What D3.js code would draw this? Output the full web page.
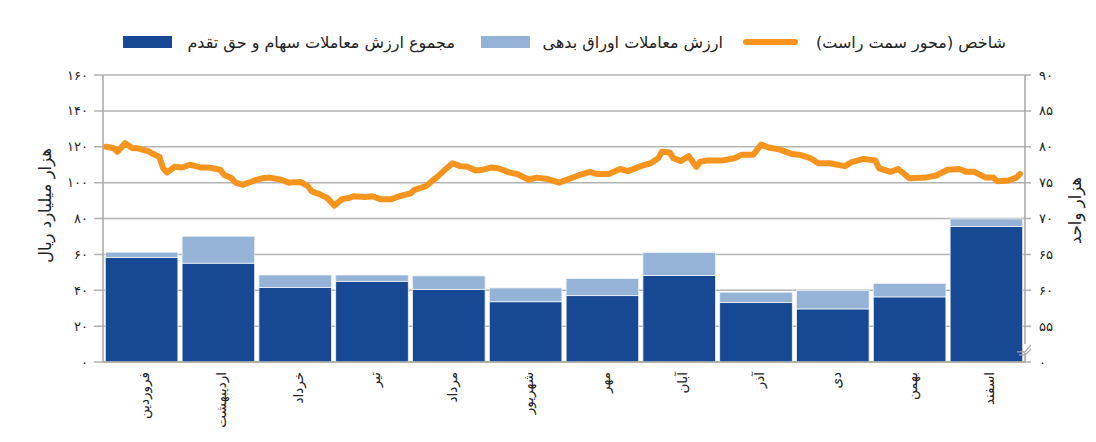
<!DOCTYPE html>
<html>
<head>
<meta charset="utf-8">
<script src="https://cdn.jsdelivr.net/npm/d3@7"></script>
<style>
  body { margin: 0; background: #fff; }
  text { font-family: "DejaVu Sans", sans-serif; fill: #222; }
</style>
</head>
<body>
<script>
// monthly trading values (thousand billion rials) and the index (thousand units)
var months = ["فروردین", "اردیبهشت", "خرداد", "تیر", "مرداد", "شهریور", "مهر", "آبان", "آذر", "دی", "بهمن", "اسفند"];
var stockValues = [58.2, 55.1, 41.5, 45.0, 40.5, 33.6, 37.0, 48.2, 33.1, 29.6, 36.3, 75.5];
var bondValues = [3.0, 15.0, 7.0, 3.5, 7.5, 7.7, 9.5, 12.8, 5.8, 10.2, 7.4, 4.3];

var leftTicks = [0, 20, 40, 60, 80, 100, 120, 140, 160];
var leftTickLabels = ["۰", "۲۰", "۴۰", "۶۰", "۸۰", "۱۰۰", "۱۲۰", "۱۴۰", "۱۶۰"];
var rightTicks = [50, 55, 60, 65, 70, 75, 80, 85, 90];
var rightTickLabels = ["۰", "۵۵", "۶۰", "۶۵", "۷۰", "۷۵", "۸۰", "۸۵", "۹۰"];

// index line: trading day (0..240) and value
var indexDays = [0, 2, 3, 5, 7, 8, 11, 12, 14, 15, 16, 18, 20, 22, 25, 27, 30, 31, 33, 34, 36, 39, 41, 43, 46, 48, 51, 53, 54, 56, 58, 60, 62, 64, 65, 68, 70, 72, 75, 77, 80,
    81, 84, 86, 87, 89, 91, 93, 95, 97, 99, 101, 103, 106, 108, 111, 113, 116, 119, 121, 124, 127, 129, 132, 135, 137, 141, 143, 145, 146, 148, 149, 151, 153, 155, 156, 158, 160,
    162, 165, 167, 170, 172, 174, 177, 180, 182, 185, 187, 190, 194, 196, 199, 202, 203, 206, 208, 211, 215, 218, 221, 224, 226, 228, 231, 233, 234, 237, 239, 240];
var indexValues = [80.0, 79.8, 79.3, 80.5, 79.8, 79.8, 79.4, 79.1, 78.6, 77.0, 76.4, 77.2, 77.1, 77.5, 77.1, 77.1, 76.8, 76.1, 75.6, 75.0, 74.7, 75.3, 75.6, 75.7, 75.4, 75.0, 75.1, 74.5, 73.8, 73.4, 72.9, 71.8, 72.7, 72.9, 73.1, 73.0, 73.1, 72.7, 72.7, 73.1, 73.5,
    74.0, 74.5, 75.4, 75.8, 76.8, 77.7, 77.3, 77.2, 76.7, 76.8, 77.1, 77.0, 76.4, 76.2, 75.4, 75.7, 75.5, 75.0, 75.4, 76.0, 76.5, 76.2, 76.2, 76.9, 76.6, 77.4, 77.7, 78.4, 79.3, 79.2, 78.4, 78.0, 78.7, 77.2, 77.9, 78.1, 78.1,
    78.1, 78.4, 78.9, 78.9, 80.3, 79.9, 79.6, 79.0, 78.9, 78.4, 77.7, 77.7, 77.3, 77.9, 78.3, 78.1, 77.0, 76.5, 76.9, 75.6, 75.7, 76.0, 76.8, 76.9, 76.5, 76.5, 75.7, 75.7, 75.2, 75.3, 75.7, 76.2];

var legendLabels = ["مجموع ارزش معاملات سهام و حق تقدم", "ارزش معاملات اوراق بدهی", "شاخص (محور سمت راست)"];
var colors = ["#174894", "#95b3d7", "#f7941d"];

var margin = {top: 75, right: 71, bottom: 80, left: 103};
var width = 1096 - margin.left - margin.right;
var height = 442 - margin.top - margin.bottom;

var svg = d3.select("body").append("svg")
    .attr("width", 1096)
    .attr("height", 442);

var g = svg.append("g")
    .attr("transform", "translate(" + margin.left + ", " + margin.top + ")");

var x = d3.scaleBand().domain(months).range([0, width]).paddingInner(0.055).paddingOuter(0.03);
var y = d3.scaleLinear().domain([0, 160]).range([height, 0]);
var y2 = d3.scaleLinear().domain([50, 90]).range([height, 0]);
var xDay = d3.scaleLinear().domain([0, 240]).range([3, width - 5]);

// gridlines
g.append("g").selectAll("line").data(leftTicks).enter().append("line")
    .attr("x1", -9).attr("x2", width + 6)
    .attr("y1", (d) => y(d)).attr("y2", (d) => y(d))
    .attr("stroke", "#b3b3b3").attr("stroke-width", 1.5);

// bars
var table = months.map((m, i) => ({month: m, stock: stockValues[i], bond: bondValues[i]}));
var stack = d3.stack().keys(["stock", "bond"])(table);

g.append("g").selectAll("g").data(stack).enter().append("g")
    .attr("fill", (d, i) => colors[i])
    .selectAll("rect").data((d) => d).enter().append("rect")
        .attr("x", (d) => x(d.data.month))
        .attr("y", (d) => y(d[1]))
        .attr("width", x.bandwidth())
        .attr("height", (d) => y(d[0]) - y(d[1]))
        .attr("stroke", "#eef2f8").attr("stroke-width", 0.8);

// axes lines
g.append("line").attr("x1", 0).attr("x2", 0).attr("y1", 0).attr("y2", height)
    .attr("stroke", "#a6a6a6").attr("stroke-width", 1.5);
g.append("line").attr("x1", width).attr("x2", width).attr("y1", 0).attr("y2", height)
    .attr("stroke", "#a6a6a6").attr("stroke-width", 1.5);
g.append("line").attr("x1", 0).attr("x2", width).attr("y1", height).attr("y2", height)
    .attr("stroke", "#a6a6a6").attr("stroke-width", 1.5);

// left tick labels
g.append("g").selectAll("text").data(leftTicks).enter().append("text")
    .attr("x", -15).attr("y", (d) => y(d)).attr("dy", "0.35em")
    .attr("text-anchor", "end").attr("font-size", "13px")
    .text((d, i) => leftTickLabels[i]);

// right tick labels
g.append("g").selectAll("text").data(rightTicks).enter().append("text")
    .attr("x", width + 14).attr("y", (d) => y2(d)).attr("dy", "0.35em")
    .attr("text-anchor", "start").attr("font-size", "13px")
    .text((d, i) => rightTickLabels[i]);

// axis break on the right axis
g.append("rect").attr("x", width - 2).attr("y", y2(52.5)).attr("width", 4).attr("height", y2(51.3) - y2(52.5))
    .attr("fill", "#fff");
g.append("path")
    .attr("d", "M" + (width - 8) + "," + y2(51.4) + "L" + width + "," + y2(51.4) + "L" + (width + 6) + "," + y2(52.4) +
        "M" + (width - 6) + "," + y2(51.0) + "L" + width + "," + y2(51.0) + "L" + (width + 6) + "," + y2(51.8))
    .attr("fill", "none").attr("stroke", "#a6a6a6").attr("stroke-width", 1.2);

// month labels
g.append("g").selectAll("text").data(months).enter().append("text")
    .attr("transform", (d) => "translate(" + (x(d) + x.bandwidth() / 2 + 3) + "," + (height + 10) + ") rotate(-90)")
    .attr("direction", "rtl").attr("text-anchor", "start")
    .attr("dy", "0.35em").attr("font-size", "13.5px")
    .text((d) => d);

// axis titles
g.append("text")
    .attr("transform", "translate(-58," + (height / 2 - 13) + ") rotate(-90)")
    .attr("direction", "rtl").attr("text-anchor", "middle")
    .attr("dy", "0.35em").attr("font-size", "16.5px")
    .text("هزار میلیارد ریال");
g.append("text")
    .attr("transform", "translate(" + (width + 50) + "," + (height / 2 - 8) + ") rotate(-90)")
    .attr("direction", "rtl").attr("text-anchor", "middle")
    .attr("dy", "0.35em").attr("font-size", "16.5px")
    .text("هزار واحد");

// index line
var line = d3.line()
    .x((d) => xDay(d[0]))
    .y((d) => y2(d[1]));
g.append("path")
    .datum(indexDays.map((d, i) => [d, indexValues[i]]))
    .attr("d", line)
    .attr("fill", "none").attr("stroke", colors[2]).attr("stroke-width", 6)
    .attr("stroke-linejoin", "round").attr("stroke-linecap", "round");

// legend
var legend = svg.append("g");
legend.append("rect").attr("x", 123).attr("y", 36).attr("width", 49).attr("height", 12).attr("fill", colors[0]);
legend.append("text").attr("x", 455).attr("y", 42).attr("dy", "0.35em")
    .attr("direction", "rtl").attr("text-anchor", "start").attr("font-size", "16px").text(legendLabels[0]);
legend.append("rect").attr("x", 481).attr("y", 36).attr("width", 49).attr("height", 12).attr("fill", colors[1]);
legend.append("text").attr("x", 723).attr("y", 42).attr("dy", "0.35em")
    .attr("direction", "rtl").attr("text-anchor", "start").attr("font-size", "16px").text(legendLabels[1]);
legend.append("line").attr("x1", 746).attr("x2", 795).attr("y1", 42).attr("y2", 42)
    .attr("stroke", colors[2]).attr("stroke-width", 6).attr("stroke-linecap", "round");
legend.append("text").attr("x", 1006).attr("y", 42).attr("dy", "0.35em")
    .attr("direction", "rtl").attr("text-anchor", "start").attr("font-size", "16px").text(legendLabels[2]);
</script>
</body>
</html>
